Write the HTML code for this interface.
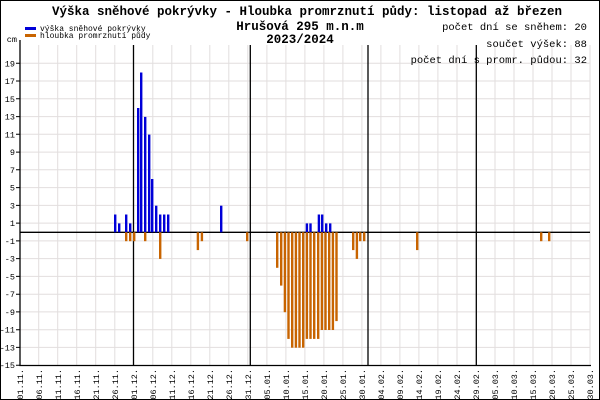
<!DOCTYPE html>
<html><head><meta charset="utf-8"><style>
html,body{margin:0;padding:0;background:#fff}
svg{display:block}
text{font-family:"Liberation Mono","DejaVu Sans Mono",monospace}
</style></head><body>
<svg width="600" height="400" viewBox="0 0 600 400" xmlns="http://www.w3.org/2000/svg">
<rect x="0.5" y="0.5" width="599" height="399" fill="#fff" stroke="#000"/>
<!-- grid -->
<g stroke="#e2dede" stroke-width="1">
<path d="M20 63.3H590M20 81H590M20 98.8H590M20 116.6H590M20 134.3H590M20 152.1H590M20 169.8H590M20 187.6H590M20 205.4H590M20 223.1H590M20 240.9H590M20 258.6H590M20 276.4H590M20 294.2H590M20 311.9H590M20 329.7H590M20 347.4H590"/>
<path d="M38.7 45V365M57.7 45V365M76.7 45V365M95.7 45V365M114.8 45V365M152.8 45V365M171.8 45V365M190.8 45V365M209.8 45V365M228.8 45V365M247.8 45V365M266.9 45V365M285.9 45V365M304.9 45V365M323.9 45V365M342.9 45V365M361.9 45V365M380.9 45V365M399.9 45V365M418.9 45V365M437.9 45V365M457 45V365M495 45V365M514 45V365M533 45V365M552 45V365M571 45V365M590 45V365"/>
</g>
<g stroke="#000" stroke-width="1.3">
<path d="M133.5 45V365M250.3 45V365M368 45V365M476.3 45V365"/>
<path d="M20 232.3H590"/>
</g>
<path d="M20 40V365.5H591" stroke="#000" stroke-width="1.3" fill="none"/>
<!-- y ticks -->
<path stroke="#000" d="M16 63.3H20M16 81H20M16 98.8H20M16 116.6H20M16 134.3H20M16 152.1H20M16 169.8H20M16 187.6H20M16 205.4H20M16 223.1H20M16 240.9H20M16 258.6H20M16 276.4H20M16 294.2H20M16 311.9H20M16 329.7H20M16 347.4H20M16 365.2H20"/>
<g font-size="8.5" text-anchor="end" fill="#000">
<text x="15" y="66.3">19</text><text x="15" y="84">17</text><text x="15" y="101.8">15</text><text x="15" y="119.6">13</text><text x="15" y="137.3">11</text><text x="15" y="155.1">9</text><text x="15" y="172.8">7</text><text x="15" y="190.6">5</text><text x="15" y="208.4">3</text><text x="15" y="226.1">1</text><text x="15" y="243.9">-1</text><text x="15" y="261.6">-3</text><text x="15" y="279.4">-5</text><text x="15" y="297.2">-7</text><text x="15" y="314.9">-9</text><text x="15" y="332.7">-11</text><text x="15" y="350.4">-13</text><text x="15" y="368.2">-15</text>
<text x="17" y="42">cm</text>
</g>
<!-- x labels -->
<g font-size="8.5" text-anchor="end" fill="#000">
<text transform="translate(23,369) rotate(-90)">01.11.</text>
<text transform="translate(42,369) rotate(-90)">06.11.</text>
<text transform="translate(61,369) rotate(-90)">11.11.</text>
<text transform="translate(80,369) rotate(-90)">16.11.</text>
<text transform="translate(99,369) rotate(-90)">21.11.</text>
<text transform="translate(118,369) rotate(-90)">26.11.</text>
<text transform="translate(137,369) rotate(-90)">01.12.</text>
<text transform="translate(156,369) rotate(-90)">06.12.</text>
<text transform="translate(175,369) rotate(-90)">11.12.</text>
<text transform="translate(194,369) rotate(-90)">16.12.</text>
<text transform="translate(213,369) rotate(-90)">21.12.</text>
<text transform="translate(232,369) rotate(-90)">26.12.</text>
<text transform="translate(251,369) rotate(-90)">31.12.</text>
<text transform="translate(270,369) rotate(-90)">05.01.</text>
<text transform="translate(289,369) rotate(-90)">10.01.</text>
<text transform="translate(308,369) rotate(-90)">15.01.</text>
<text transform="translate(327,369) rotate(-90)">20.01.</text>
<text transform="translate(346,369) rotate(-90)">25.01.</text>
<text transform="translate(365,369) rotate(-90)">30.01.</text>
<text transform="translate(384,369) rotate(-90)">04.02.</text>
<text transform="translate(403,369) rotate(-90)">09.02.</text>
<text transform="translate(422,369) rotate(-90)">14.02.</text>
<text transform="translate(441,369) rotate(-90)">19.02.</text>
<text transform="translate(460,369) rotate(-90)">24.02.</text>
<text transform="translate(479,369) rotate(-90)">29.02.</text>
<text transform="translate(498,369) rotate(-90)">05.03.</text>
<text transform="translate(517,369) rotate(-90)">10.03.</text>
<text transform="translate(536,369) rotate(-90)">15.03.</text>
<text transform="translate(555,369) rotate(-90)">20.03.</text>
<text transform="translate(574,369) rotate(-90)">25.03.</text>
<text transform="translate(593,369) rotate(-90)">30.03.</text>
</g>
<!-- snow bars -->
<g fill="#0000d8">
<rect x="114" y="214.5" width="2.4" height="17.8"/>
<rect x="118" y="223.4" width="2.4" height="8.9"/>
<rect x="125" y="214.5" width="2.4" height="17.8"/>
<rect x="129" y="223.4" width="2.4" height="8.9"/>
<rect x="137" y="108" width="2.4" height="124.3"/>
<rect x="140" y="72.5" width="2.4" height="159.8"/>
<rect x="144" y="116.9" width="2.4" height="115.4"/>
<rect x="148" y="134.6" width="2.4" height="97.7"/>
<rect x="151" y="179" width="2.4" height="53.3"/>
<rect x="155" y="205.7" width="2.4" height="26.6"/>
<rect x="159" y="214.5" width="2.4" height="17.8"/>
<rect x="163" y="214.5" width="2.4" height="17.8"/>
<rect x="167" y="214.5" width="2.4" height="17.8"/>
<rect x="220" y="205.7" width="2.4" height="26.6"/>
<rect x="305.7" y="223.4" width="2.4" height="8.9"/>
<rect x="309.3" y="223.4" width="2.4" height="8.9"/>
<rect x="317.7" y="214.5" width="2.4" height="17.8"/>
<rect x="321" y="214.5" width="2.4" height="17.8"/>
<rect x="325" y="223.4" width="2.4" height="8.9"/>
<rect x="329" y="223.4" width="2.4" height="8.9"/>
</g>
<!-- frost bars -->
<g fill="#c86400">
<rect x="125" y="232.3" width="2.4" height="8.9"/>
<rect x="129" y="232.3" width="2.4" height="8.9"/>
<rect x="133" y="232.3" width="2.4" height="8.9"/>
<rect x="144" y="232.3" width="2.4" height="8.9"/>
<rect x="159" y="232.3" width="2.4" height="26.6"/>
<rect x="196.7" y="232.3" width="2.4" height="17.8"/>
<rect x="200.7" y="232.3" width="2.4" height="8.9"/>
<rect x="246" y="232.3" width="2.4" height="8.9"/>
<rect x="276" y="232.3" width="2.4" height="35.5"/>
<rect x="280" y="232.3" width="2.4" height="53.3"/>
<rect x="283.7" y="232.3" width="2.4" height="79.9"/>
<rect x="287.3" y="232.3" width="2.4" height="106.6"/>
<rect x="291" y="232.3" width="2.4" height="115.4"/>
<rect x="294.7" y="232.3" width="2.4" height="115.4"/>
<rect x="298.3" y="232.3" width="2.4" height="115.4"/>
<rect x="302" y="232.3" width="2.4" height="115.4"/>
<rect x="305.7" y="232.3" width="2.4" height="106.6"/>
<rect x="309.3" y="232.3" width="2.4" height="106.6"/>
<rect x="313" y="232.3" width="2.4" height="106.6"/>
<rect x="317" y="232.3" width="2.4" height="106.6"/>
<rect x="320.7" y="232.3" width="2.4" height="97.7"/>
<rect x="324.3" y="232.3" width="2.4" height="97.7"/>
<rect x="328" y="232.3" width="2.4" height="97.7"/>
<rect x="331.7" y="232.3" width="2.4" height="97.7"/>
<rect x="335.3" y="232.3" width="2.4" height="88.8"/>
<rect x="352" y="232.3" width="2.4" height="17.8"/>
<rect x="355.7" y="232.3" width="2.4" height="26.6"/>
<rect x="359" y="232.3" width="2.4" height="8.9"/>
<rect x="363" y="232.3" width="2.4" height="8.9"/>
<rect x="416" y="232.3" width="2.4" height="17.8"/>
<rect x="540" y="232.3" width="2.4" height="8.9"/>
<rect x="548" y="232.3" width="2.4" height="8.9"/>
</g>
<!-- titles -->
<g fill="#000" font-weight="bold" font-size="12.5" text-anchor="middle">
<text x="307" y="15">Výška sněhové pokrývky - Hloubka promrznutí půdy: listopad až březen</text>
<text x="300" y="30">Hrušová 295 m.n.m</text>
<text x="300" y="43">2023/2024</text>
</g>
<g fill="#000" font-size="10.5" text-anchor="end">
<text x="587" y="30">počet dní se sněhem: 20</text>
<text x="587" y="47">součet výšek: 88</text>
<text x="587" y="63">počet dní s promr. půdou: 32</text>
</g>
<!-- legend -->
<rect x="25" y="27" width="11" height="3" fill="#0000d8"/>
<rect x="25" y="34" width="11" height="3" fill="#c86400"/>
<g fill="#000" font-size="8">
<text x="40" y="31">výška sněhové pokrývky</text>
<text x="40" y="38">hloubka promrznutí půdy</text>
</g>
</svg>
</body></html>
